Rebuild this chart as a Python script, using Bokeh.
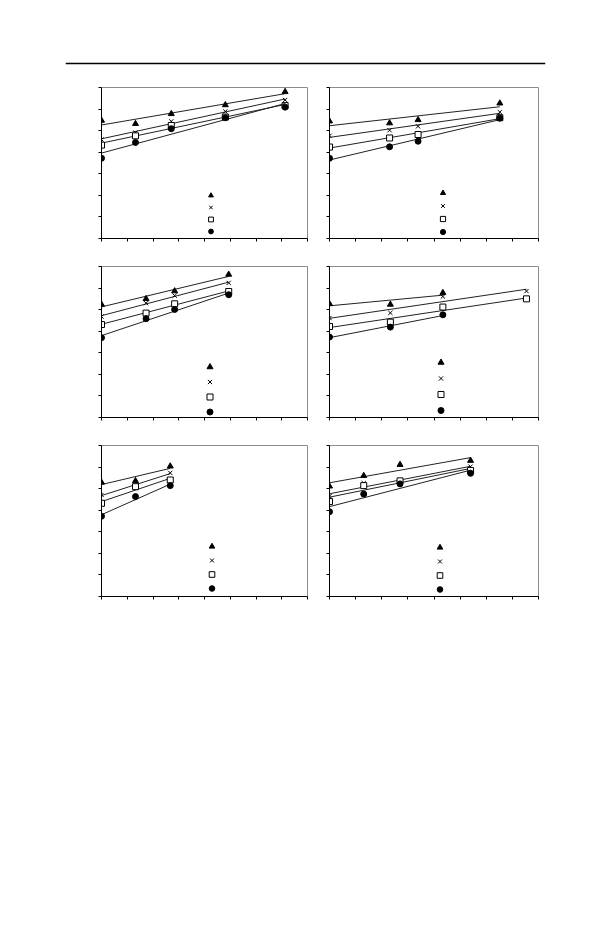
import numpy as np
from bokeh.plotting import figure
from bokeh.layouts import column, row
from bokeh.models import (Range1d, FixedTicker, CustomJSTickFormatter, Span,
                          Legend, LegendItem)
from bokeh.embed import file_html
from bokeh.resources import INLINE

# panel a (top left)
A_X = [0, 1.32, 2.71, 4.81, 7.13]
A_TRI = [5.47, 5.32, 5.78, 6.19, 6.80]
A_CROSS = [4.59, 4.91, 5.43, 5.89, 6.42]
A_SQUARE = [4.33, 4.76, 5.24, 5.63, 6.16]
A_DOT = [3.72, 4.45, 5.09, 5.60, 6.09]

# panel b (top right)
B_X = [0, 2.30, 3.39, 6.52]
B_TRI = [5.44, 5.35, 5.50, 6.27]
B_CROSS = [4.76, 5.02, 5.20, 5.86]
B_SQUARE = [4.24, 4.66, 4.82, 5.60]
B_DOT = [3.72, 4.25, 4.51, 5.58]

# panel c (middle left)
C_X = [0, 1.73, 2.84, 4.94]
C_TRI = [5.24, 5.50, 5.86, 6.63]
C_CROSS = [4.68, 5.30, 5.65, 6.24]
C_SQUARE = [4.31, 4.84, 5.27, 5.84]
C_DOT = [3.70, 4.58, 5.01, 5.69]

# panel d (middle right), two series go further out
D_X_SHORT = [0, 2.33, 4.34]
D_X_LONG = [0, 2.33, 4.34, 7.54]
D_TRI = [5.27, 5.24, 5.78]
D_CROSS = [4.61, 4.85, 5.61, 5.86]
D_SQUARE = [4.22, 4.42, 5.12, 5.50]
D_DOT = [3.73, 4.19, 4.76]

# panel e (bottom left)
E_X = [0, 1.32, 2.67]
E_TRI = [5.29, 5.36, 6.04]
E_CROSS = [4.71, 5.12, 5.73]
E_SQUARE = [4.32, 5.09, 5.40]
E_DOT = [3.72, 4.63, 5.14]

# panel f (bottom right)
F_X = [0, 1.31, 2.70, 5.40]
F_TRI = [5.11, 5.60, 6.11, 6.30]
F_CROSS = [4.65, 5.26, 5.34, 6.02]
F_SQUARE = [4.40, 5.14, 5.36, 5.84]
F_DOT = [3.93, 4.75, 5.22, 5.71]

X_TICKS = list(range(9))
Y_TICKS = list(range(8))

MARKERS = [
    dict(marker="triangle", size=6, fill_color="black", line_color="black"),
    dict(marker="x", size=6, fill_color=None, line_color="black"),
    dict(marker="square", size=6, fill_color="white", line_color="black"),
    dict(marker="circle", size=6, fill_color="black", line_color="black"),
]

blank = CustomJSTickFormatter(code="return ''")


def panel(series, width, height, borders, leg):
    left, right, top, bottom = borders
    p = figure(width=width, height=height, output_backend="svg",
               toolbar_location=None, x_range=Range1d(0, 8),
               y_range=Range1d(0, 7), min_border_left=left,
               min_border_right=right, min_border_top=top,
               min_border_bottom=bottom)
    p.grid.visible = False
    p.outline_line_color = "#8c8c8c"
    p.outline_line_width = 1
    for ax, ticks in ((p.xaxis, X_TICKS), (p.yaxis, Y_TICKS)):
        ax.ticker = FixedTicker(ticks=ticks)
        ax.formatter = blank
        ax.major_label_text_font_size = "0px"
        ax.major_label_standoff = 0
        ax.major_tick_out = 3
        ax.major_tick_in = 0
        ax.minor_tick_line_color = None
        ax.axis_line_color = "black"
        ax.major_tick_line_color = "black"

    items = []
    for (xs, ys), style in zip(series, MARKERS):
        xs = np.asarray(xs, float)
        ys = np.asarray(ys, float)
        k, b = np.polyfit(xs, ys, 1)
        fx = np.array([xs.min(), xs.max()])
        p.line(fx, k * fx + b, line_color="#222222", line_width=1)
        r = p.scatter(xs, ys, line_width=1, **style)
        items.append(LegendItem(label="", renderers=[r]))

    # legend without labels: only the symbols stacked below the data
    cx, cyb, step = leg
    gh = int(round(step))
    gw = 15
    legend = Legend(items=items, location=(cx - gw / 2, cyb - gh / 2),
                    glyph_width=gw, glyph_height=gh, spacing=0,
                    padding=0, margin=0, label_standoff=0, label_width=0,
                    label_height=1, label_text_font_size="1px",
                    border_line_color=None, background_fill_alpha=0)
    p.add_layout(legend)
    return p


# header rule
head = figure(width=602, height=70, output_backend="svg",
              toolbar_location=None, x_range=Range1d(0, 1),
              y_range=Range1d(0, 70), min_border_left=65,
              min_border_right=57, min_border_top=0, min_border_bottom=0)
head.axis.visible = False
head.grid.visible = False
head.outline_line_color = None
head.add_layout(Span(location=7, dimension="width", line_color="black",
                     line_width=1.5))
head.scatter([0.5], [30], alpha=0)

pa = panel([(A_X, A_TRI), (A_X, A_CROSS), (A_X, A_SQUARE), (A_X, A_DOT)],
           314, 183, (101, 7, 17, 14), (109.7, 7.3, 12.2))
pb = panel([(B_X, B_TRI), (B_X, B_CROSS), (B_X, B_SQUARE), (B_X, B_DOT)],
           288, 183, (15, 64, 17, 15), (113.7, 6.3, 13.3))
pc = panel([(C_X, C_TRI), (C_X, C_CROSS), (C_X, C_SQUARE), (C_X, C_DOT)],
           314, 178, (101, 7, 13, 14), (108, 6, 15))
pd = panel([(D_X_SHORT, D_TRI), (D_X_LONG, D_CROSS), (D_X_LONG, D_SQUARE),
            (D_X_SHORT, D_DOT)],
           288, 178, (15, 64, 13, 14), (111.7, 7, 16))
pe = panel([(E_X, E_TRI), (E_X, E_CROSS), (E_X, E_SQUARE), (E_X, E_DOT)],
           314, 179, (101, 7, 14, 14), (110.7, 7.7, 14.1))
pf = panel([(F_X, F_TRI), (F_X, F_CROSS), (F_X, F_SQUARE), (F_X, F_DOT)],
           288, 179, (15, 64, 14, 14), (110.3, 7.3, 14))

p = column(head, row(pa, pb), row(pc, pd), row(pe, pf))

open("out.html", "w").write(file_html(p, INLINE))
